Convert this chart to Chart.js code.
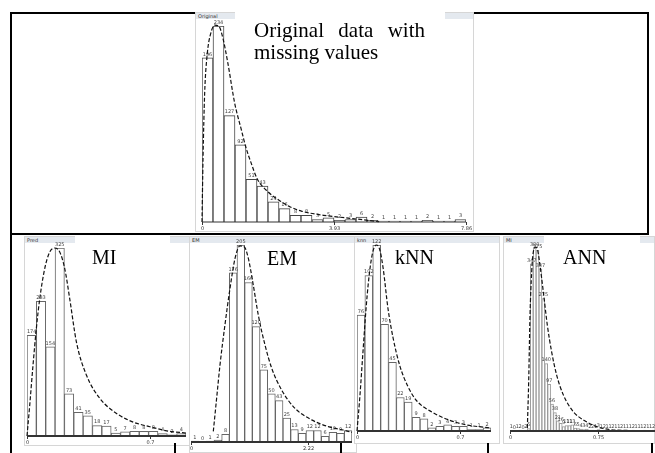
<!DOCTYPE html>
<html>
<head>
<meta charset="utf-8">
<script src="https://cdn.jsdelivr.net/npm/chart.js@4.4.1/dist/chart.umd.min.js"></script>
<style>
  html, body { margin: 0; padding: 0; background: #fff; }
  #stage { position: relative; width: 655px; height: 453px; overflow: hidden; background: #fff; }
  .rule { position: absolute; background: #000; }
  .panel { position: absolute; background: #fff; border: 1px solid #d6d6d6; box-sizing: border-box; }
  .panel .title { position: absolute; left: 0; top: 0; right: 0; height: 6px; background: #e4e9ef;
    font: 5px 'DejaVu Sans', sans-serif; line-height: 6px; color: #333; padding-left: 2px; }
  .panel canvas { position: absolute; left: -1px; top: -1px; }
  .cover { position: absolute; background: #fff; }
  .tag { position: absolute; font-family: 'Liberation Serif', 'Times New Roman', serif; font-size: 20px;
    line-height: 20px; color: #000; white-space: nowrap; }
  .tag.big { font-size: 21px; line-height: 22px; width: 171px; text-align: justify; white-space: normal; }
</style>
</head>
<body>
<div id="stage"></div>
<script>
// histogram counts and fitted curves
const origCounts = [196, 234, 127, 92, 51, 43, 24, 16, 8, 8, 3, 5, 2, 3, 6, 2, 1, 1, 1, 1, 2, 1, 1, 3];
const origCurveX = [0, 0.09, 0.24, 0.48, 0.79, 1.15, 1.52, 1.91, 2.36, 2.97, 3.58, 3.97, 4.48, 5.0, 6.0, 7.0, 8.03, 9.03, 11.06, 13.06, 15.09, 16.1];
const origCurveY = [0, 74, 153, 201, 225, 235, 234, 219, 189, 142, 110, 90, 70, 52, 36, 26, 18, 13, 8, 5, 2, 0.4];
const origTicks = [0, 12, 24];
const origTickText = ['0', '3.93', '7.86'];

const miCounts = [174, 233, 154, 325, 73, 41, 35, 18, 17, 5, 7, 8, 8, 8, 4, 2, 4];
const miCurveX = [0, 0.29, 0.64, 1.0, 1.36, 1.89, 2.43, 2.96, 3.5, 4.04, 4.57, 5.29, 6.36, 7.79, 9.57, 11.36, 13.14, 14.93, 17];
const miCurveY = [0, 53, 122, 186, 237, 289, 318, 325, 318, 289, 237, 162, 105, 65, 39, 24, 16, 9, 5];
const miTicks = [0, 13.1];
const miTickText = ['0', '0.7'];

const emCounts = [1, 0, 1, 2, 8, 176, 205, 166, 120, 75, 50, 43, 25, 13, 9, 12, 12, 6, 10, 9, 12];
const emCurveX = [2.91, 3.35, 3.78, 4.43, 5.09, 5.74, 6.39, 6.96, 7.48, 8.13, 8.78, 9.65, 10.52, 11.83, 13.57, 15.74, 17.91, 20.09, 21];
const emCurveY = [11, 46, 80, 122, 160, 191, 204, 203, 191, 163, 132, 101, 77, 54, 35, 23, 16, 12, 10];
const emTicks = [0, 15.3];
const emTickText = ['0', '2.22'];

const knnCounts = [76, 102, 122, 70, 45, 22, 19, 9, 8, 2, 3, 4, 3, 3, 1, 1, 2];
const knnCurveX = [0, 0.34, 0.76, 1.19, 1.61, 2.03, 2.46, 2.88, 3.31, 3.94, 4.58, 5.42, 6.48, 7.54, 9.66, 11.78, 13.9, 17];
const knnCurveY = [0, 21, 52, 83, 105, 118, 122, 119, 107, 80, 61, 43, 29, 20, 12, 7, 4, 2];
const knnTicks = [0, 13.05];
const knnTickText = ['0', '0.7'];

const annCounts = [1, 0, 1, 2, 0, 2, 5, 347, 380, 375, 337, 275, 140, 97, 56, 38, 21, 16, 9, 11, 11, 13, 6, 5, 4, 3, 4, 2,
  2, 1, 3, 1, 2, 1, 1, 2, 1, 1, 2, 1, 1, 1, 2, 1, 1, 1, 2, 1, 1, 2];
const annCurveX = [5.98, 6.44, 6.9, 7.47, 8.05, 8.85, 9.54, 10.34, 11.49, 12.87, 14.37, 16.09, 18.39, 21.84, 25.29, 29.89, 34.48, 41.38, 50];
const annCurveY = [6, 102, 240, 330, 372, 382, 375, 344, 289, 220, 164, 116, 75, 40, 23, 9, 3, 1, 0];
const annTicks = [0, 30.5];
const annTickText = ['0', '0.75'];

const stage = document.getElementById('stage');

function box(cls, x, y, w, h) {
  const d = document.createElement('div');
  d.className = cls;
  Object.assign(d.style, { left: x + 'px', top: y + 'px', width: w + 'px', height: h + 'px' });
  stage.appendChild(d);
  return d;
}

// frame lines of the figure
box('rule', 10, 12, 639, 2);
box('rule', 10, 12, 2, 441);
box('rule', 647, 12, 2, 223);

// count labels above the bars
const barLabels = {
  id: 'barLabels',
  afterDatasetsDraw(chart) {
    const { ctx } = chart;
    const values = chart.data.datasets[0].data;
    ctx.save();
    ctx.font = '5px "DejaVu Sans"';
    ctx.fillStyle = '#444';
    ctx.textAlign = 'center';
    ctx.textBaseline = 'bottom';
    chart.getDatasetMeta(0).data.forEach((bar, i) => ctx.fillText(values[i], bar.x, bar.y - 1));
    ctx.restore();
  }
};

// baseline and the few axis ticks
const baseAxis = {
  id: 'baseAxis',
  afterDatasetsDraw(chart, args, opts) {
    const { ctx, chartArea: a, scales } = chart;
    ctx.save();
    ctx.strokeStyle = '#333';
    ctx.fillStyle = '#333';
    ctx.lineWidth = opts.axisWidth;
    ctx.beginPath();
    ctx.moveTo(a.left, a.bottom);
    ctx.lineTo(a.right, a.bottom);
    ctx.stroke();
    ctx.lineWidth = 1;
    ctx.font = '5px "DejaVu Sans"';
    ctx.textAlign = 'center';
    ctx.textBaseline = 'top';
    opts.ticks.forEach((t, i) => {
      const x = Math.round(scales.x.getPixelForValue(t)) + 0.5;
      ctx.beginPath();
      ctx.moveTo(x, a.bottom);
      ctx.lineTo(x, a.bottom + 3);
      ctx.stroke();
      ctx.fillText(opts.labels[i], x, a.bottom + 4);
    });
    ctx.restore();
  }
};

function canvasIn(panel, p) {
  const cv = document.createElement('canvas');
  cv.width = p.w;
  cv.height = p.h;
  panel.appendChild(cv);
  return cv;
}

function histogram(p, counts, curveX, curveY, ticks, tickText) {
  const panel = box('panel', p.x, p.y, p.w, p.h);
  const t = document.createElement('div');
  t.className = 'title';
  t.textContent = p.title;
  panel.appendChild(t);
  const peak = Math.max(...counts);

  // bars
  new Chart(canvasIn(panel, p), {
    type: 'bar',
    data: {
      labels: counts.map((c, i) => String(i)),
      datasets: [{
        data: counts,
        backgroundColor: '#fff',
        borderColor: p.barColor,
        borderWidth: 1,
        barPercentage: 1,
        categoryPercentage: 1
      }]
    },
    options: {
      responsive: false,
      animation: false,
      layout: { padding: p.pad },
      plugins: { legend: { display: false }, tooltip: { enabled: false } },
      scales: {
        x: { display: false, offset: true },
        y: { display: false, min: 0, max: peak }
      }
    },
    plugins: [barLabels]
  });

  // fitted curve on a matching linear scale, bins 0..N
  new Chart(canvasIn(panel, p), {
    type: 'line',
    data: {
      datasets: [{
        data: curveX.map((x, i) => ({ x: x, y: curveY[i] })),
        borderColor: '#111',
        borderWidth: 1.2,
        borderDash: [4, 2],
        pointRadius: 0,
        cubicInterpolationMode: 'monotone',
        clip: false
      }]
    },
    options: {
      responsive: false,
      animation: false,
      layout: { padding: p.pad },
      plugins: {
        legend: { display: false },
        tooltip: { enabled: false },
        baseAxis: { ticks: ticks, labels: tickText, axisWidth: p.axisWidth }
      },
      scales: {
        x: { type: 'linear', display: false, min: 0, max: counts.length },
        y: { display: false, min: 0, max: peak }
      }
    },
    plugins: [baseAxis]
  });
}

histogram({ x: 195, y: 12, w: 279, h: 220, title: 'Original', barColor: '#444', axisWidth: 1.2,
  pad: { left: 7, right: 8, top: 14, bottom: 10 } }, origCounts, origCurveX, origCurveY, origTicks, origTickText);
histogram({ x: 24, y: 236, w: 166, h: 210, title: 'Pred', barColor: '#666', axisWidth: 2,
  pad: { left: 3, right: 4, top: 12, bottom: 10 } }, miCounts, miCurveX, miCurveY, miTicks, miTickText);
histogram({ x: 189, y: 236, w: 168, h: 217, title: 'EM', barColor: '#666', axisWidth: 2,
  pad: { left: 2, right: 5, top: 9, bottom: 11 } }, emCounts, emCurveX, emCurveY, emTicks, emTickText);
histogram({ x: 354, y: 236, w: 146, h: 208, title: 'knn', barColor: '#666', axisWidth: 2,
  pad: { left: 3, right: 9, top: 9, bottom: 13 } }, knnCounts, knnCurveX, knnCurveY, knnTicks, knnTickText);
histogram({ x: 503, y: 236, w: 152, h: 208, title: 'MI', barColor: '#9a9a9a', axisWidth: 2,
  pad: { left: 7, right: 0, top: 12, bottom: 13 } }, annCounts, annCurveX, annCurveY, annTicks, annTickText);

// separator between the two rows and the small marks under the lower row
box('rule', 10, 233, 639, 2);
[174, 340, 487, 651].forEach(x => box('rule', x, 443, 2, 10));

// white label boxes and the method names
box('cover', 235, 12, 210, 10);
box('cover', 75, 235, 95, 14);
box('cover', 544, 235, 96, 14);

const big = box('tag big', 254, 19, 171, 44);
big.textContent = 'Original data with missing values';
[['MI', 92, 247], ['EM', 267, 248], ['kNN', 395, 247], ['ANN', 563, 247]].forEach(([txt, x, y]) => {
  const d = document.createElement('div');
  d.className = 'tag';
  d.textContent = txt;
  d.style.left = x + 'px';
  d.style.top = y + 'px';
  stage.appendChild(d);
});
</script>
</body>
</html>
